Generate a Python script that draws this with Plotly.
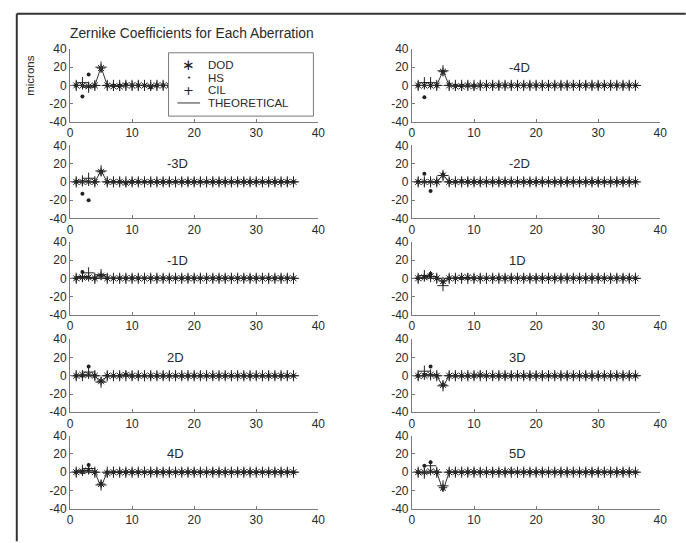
import plotly.graph_objects as go

W, H = 686, 543

# ---------------- data ----------------
ZERNIKE_INDEX = list(range(1, 37))
PANEL_LABELS = ["", "-4D", "-3D", "-2D", "-1D", "1D", "2D", "3D", "4D", "5D"]
X_TICKS = [0, 10, 20, 30, 40]
X_TICK_TEXT = ["0", "10", "20", "30", "40"]
Y_TICKS = [-40, -20, 0, 20, 40]
Y_TICK_TEXT = ["-40", "-20", "0", "20", "40"]

#            1   2   3  4   5   6   7   8  9 10 11 12  13 14 15  16 17 18 19 20 21 22 23 24 25 26 27 28 29 30 31 32 33 34 35 36
DOD_P1  = [0,  0, -1, 0, 19,  0, -1, -1, 0, 0, 0, 0, -1, 0, 0,  0, 0, 0, 0, 0, 0, 0, 0, 0, 0, 0, 0, 0, 0, 0, 0, 0, 0, 0, 0, 0]
HS_P1   = [0,-12, 12, 0, 18,  0,  0,  0, 1, 0, 0, 0, -2, 0, 0, -1, 0, 0, 0, 0, 0, 0, 0, 0, 0, 0, 0, 0, 0, 0, 0, 0, 0, 0, 0, 0]
CIL_P1  = [0,  3, -2, 0, 20,  0,  0,  0, 0, 0, 0, 0,  0, 0, 0,  0, 0, 0, 0, 0, 0, 0, 0, 0, 0, 0, 0, 0, 0, 0, 0, 0, 0, 0, 0, 0]
TH_P1   = [0,  0,  0, 0, 20,  0,  0,  0, 0, 0, 0, 0,  0, 0, 0,  0, 0, 0, 0, 0, 0, 0, 0, 0, 0, 0, 0, 0, 0, 0, 0, 0, 0, 0, 0, 0]

DOD_P2  = [0,  0,  0, 0, 15,  0, -1, -1, 0, -1, 0, 0, 0, 0, 0, 0, 0, 0, 0, 0, 0, 0, 0, 0, 0, 0, 0, 0, 0, 0, 0, 0, 0, 0, 0, 0]
HS_P2   = [0,-13,  0, 0, 15,  1,  0,  0, 0, 0, 0, 0, 0, 0, 0, 0, 0, 0, 0, 0, 0, 0, 0, 0, 0, 0, 0, 0, 0, 0, 0, 0, 0, 0, 0, 0]
CIL_P2  = [0,  3,  3, 0, 16,  0,  0,  0, 0, 0, 0, 0, 0, 0, 0, 0, 0, 0, 0, 0, 0, 0, 0, 0, 0, 0, 0, 0, 0, 0, 0, 0, 0, 0, 0, 0]
TH_P2   = [0,  0,  0, 0, 16,  0,  0,  0, 0, 0, 0, 0, 0, 0, 0, 0, 0, 0, 0, 0, 0, 0, 0, 0, 0, 0, 0, 0, 0, 0, 0, 0, 0, 0, 0, 0]

DOD_P3  = [0,  0,  0, 0, 11,  0,  0,  0, -1, 0, 0, 0, 0, 0, 0, 0, 0, 0, 0, 0, 0, 0, 0, 0, 0, 0, 0, 0, 0, 0, 0, 0, 0, 0, 0, 0]
HS_P3   = [0,-13,-20, 0, 11,  0,  0,  0, -1, 0, 0, 0, 0, 0, 0, 0, 0, 0, 0, 0, 0, 0, 0, 0, 0, 0, 0, 0, 0, 0, 0, 0, 0, 0, 0, 0]
CIL_P3  = [0,  1,  4, 0, 12,  0,  0,  0, 0, 0, 0, 0, 0, 0, 0, 0, 0, 0, 0, 0, 0, 0, 0, 0, 0, 0, 0, 0, 0, 0, 0, 0, 0, 0, 0, 0]
TH_P3   = [0,  0,  0, 0, 12,  0,  0,  0, 0, 0, 0, 0, 0, 0, 0, 0, 0, 0, 0, 0, 0, 0, 0, 0, 0, 0, 0, 0, 0, 0, 0, 0, 0, 0, 0, 0]

DOD_P4  = [0,  0,  0, 0,  7,  0,  0,  0, 0, 0, 0, 0, 0, 0, 0, 0, 0, 0, 0, 0, 0, 0, 0, 0, 0, 0, 0, 0, 0, 0, 0, 0, 0, 0, 0, 0]
HS_P4   = [0,  9,-10, 0,  8,  0,  0,  1, 0, 0, 0, 0, 0, 0, 0, 0, 0, 0, 0, 0, 0, 0, 0, 0, 0, 0, 0, 0, 0, 0, 0, 0, 0, 0, 0, 0]
CIL_P4  = [0,  0,  0, 0,  7,  0,  0,  0, 0, 0, 0, 0, 0, 0, 0, 0, 0, 0, 0, 0, 0, 0, 0, 0, 0, 0, 0, 0, 0, 0, 0, 0, 0, 0, 0, 0]
TH_P4   = [0,  0,  0, 0,  8,  0,  0,  0, 0, 0, 0, 0, 0, 0, 0, 0, 0, 0, 0, 0, 0, 0, 0, 0, 0, 0, 0, 0, 0, 0, 0, 0, 0, 0, 0, 0]

DOD_P5  = [0,  1,  1, 0,  3,  0,  0,  0, 0, 0, 0, 0, 0, 0, 0, 0, 0, 0, 0, 0, 0, 0, 0, 0, 0, 0, 0, 0, 0, 0, 0, 0, 0, 0, 0, 0]
HS_P5   = [0,  7,  1, 0,  3,  0,  0,  0, 0, 0, 0, 0, 0, 0, 0, 0, 0, 0, 0, 0, 0, 0, 0, 0, 0, 0, 0, 0, 0, 0, 0, 0, 0, 0, 0, 0]
CIL_P5  = [0,  2,  6, 0,  4,  0,  0,  0, 0, 0, 0, 0, 0, 0, 0, 0, 0, 0, 0, 0, 0, 0, 0, 0, 0, 0, 0, 0, 0, 0, 0, 0, 0, 0, 0, 0]
TH_P5   = [0,  0,  0, 0,  4,  0,  0,  0, 0, 0, 0, 0, 0, 0, 0, 0, 0, 0, 0, 0, 0, 0, 0, 0, 0, 0, 0, 0, 0, 0, 0, 0, 0, 0, 0, 0]

DOD_P6  = [0,  1,  2, 0, -3,  0,  0,  1, 1, 0, 0, 0, 0, 0, 0, 0, 0, 0, 0, 0, 0, 0, 0, 0, 0, 0, 0, 0, 0, 0, 0, 0, 0, 0, 0, 0]
HS_P6   = [0,  2,  5, 0, -4,  0,  0,  0, 0, 0, 0, 0, 0, 0, 0, 0, 0, 0, 0, 0, 0, 0, 0, 0, 0, 0, 0, 0, 0, 0, 0, 0, 0, 0, 0, 0]
CIL_P6  = [0,  3,  2, 0, -8,  0,  0,  0, 0, 0, 0, 0, 0, 0, 0, 0, 0, 0, 0, 0, 0, 0, 0, 0, 0, 0, 0, 0, 0, 0, 0, 0, 0, 0, 0, 0]
TH_P6   = [0,  0,  0, 0, -4,  0,  0,  0, 0, 0, 0, 0, 0, 0, 0, 0, 0, 0, 0, 0, 0, 0, 0, 0, 0, 0, 0, 0, 0, 0, 0, 0, 0, 0, 0, 0]

DOD_P7  = [0,  1,  1, 0, -6,  0,  0,  0, 1, 0, 0, 0, 0, 0, 0, 0, 0, 0, 0, 0, 0, 0, 0, 0, 0, 0, 0, 0, 0, 0, 0, 0, 0, 0, 0, 0]
HS_P7   = [0,  0, 10, 0, -6,  0,  0,  0, 1, 0, 0, 0, 0, 0, 0, 0, 0, 0, 0, 0, 0, 0, 0, 0, 0, 0, 0, 0, 0, 0, 0, 0, 0, 0, 0, 0]
CIL_P7  = [0,  0,  4, 0, -7,  0,  0,  0, 0, 0, 0, 0, 0, 0, 0, 0, 0, 0, 0, 0, 0, 0, 0, 0, 0, 0, 0, 0, 0, 0, 0, 0, 0, 0, 0, 0]
TH_P7   = [0,  0,  0, 0, -8,  0,  0,  0, 0, 0, 0, 0, 0, 0, 0, 0, 0, 0, 0, 0, 0, 0, 0, 0, 0, 0, 0, 0, 0, 0, 0, 0, 0, 0, 0, 0]

DOD_P8  = [0,  0,  1, 0,-10,  0,  0,  0, 0, 0, 1, 0, 0, 0, 0, 0, 0, 0, 0, 0, 0, 0, 0, 0, 0, 0, 0, 0, 0, 0, 0, 0, 0, 0, 0, 0]
HS_P8   = [0,  1, 10, 0,-10,  0,  0,  0, 0, 0, 0, 0, 0, 0, 0, 0, 0, 0, 0, 0, 0, 0, 0, 0, 0, 0, 0, 0, 0, 0, 0, 0, 0, 0, 0, 0]
CIL_P8  = [0,  5,  1, 0,-11,  0,  0,  0, 0, 0, 0, 0, 0, 0, 0, 0, 0, 0, 0, 0, 0, 0, 0, 0, 0, 0, 0, 0, 0, 0, 0, 0, 0, 0, 0, 0]
TH_P8   = [0,  0,  0, 0,-12,  0,  0,  0, 0, 0, 0, 0, 0, 0, 0, 0, 0, 0, 0, 0, 0, 0, 0, 0, 0, 0, 0, 0, 0, 0, 0, 0, 0, 0, 0, 0]

DOD_P9  = [0,  1,  2, 0,-13, -1,  0,  0, 0, 0, 0, 0, 0, 0, 0, 0, 0, 0, 0, 0, 0, 0, 0, 0, 0, 0, 0, 0, 0, 0, 0, 0, 0, 0, 0, 0]
HS_P9   = [0,  0,  8, 0,-13,  0,  0,  0, 0, 0, 0, 0, 0, 0, 0, 0, 0, 0, 0, 0, 0, 0, 0, 0, 0, 0, 0, 0, 0, 0, 0, 0, 0, 0, 0, 0]
CIL_P9  = [0,  2,  4, 0,-14,  0,  0,  0, 0, 0, 0, 0, 0, 0, 0, 0, 0, 0, 0, 0, 0, 0, 0, 0, 0, 0, 0, 0, 0, 0, 0, 0, 0, 0, 0, 0]
TH_P9   = [0,  0,  0, 0,-16,  0,  0,  0, 0, 0, 0, 0, 0, 0, 0, 0, 0, 0, 0, 0, 0, 0, 0, 0, 0, 0, 0, 0, 0, 0, 0, 0, 0, 0, 0, 0]

DOD_P10 = [0,  0,  1, 0,-17,  0,  0,  0, 0, 0, 0, 0, 0, 0, 0, 1, 0, 0, 0, 0, 0, 0, 0, 0, 0, 0, 0, 0, 0, 0, 0, 0, 0, 0, 0, 0]
HS_P10  = [0,  7, 11, 0,-18,  0,  0,  0, 0, 0, 0, 0, 0, 0, 0, 0, 0, 0, 0, 0, 0, 0, 0, 0, 0, 0, 0, 0, 0, 0, 0, 0, 0, 0, 0, 0]
CIL_P10 = [0, -1,  7, 0,-15,  0,  0,  0, 0, 0, 0, 0, 0, 0, 0, 0, 0, 0, 0, 0, 0, 0, 0, 0, 0, 0, 0, 0, 0, 0, 0, 0, 0, 0, 0, 0]
TH_P10  = [0,  0,  0, 0,-20,  0,  0,  0, 0, 0, 0, 0, 0, 0, 0, 0, 0, 0, 0, 0, 0, 0, 0, 0, 0, 0, 0, 0, 0, 0, 0, 0, 0, 0, 0, 0]

PANELS = [
    (DOD_P1, HS_P1, CIL_P1, TH_P1), (DOD_P2, HS_P2, CIL_P2, TH_P2),
    (DOD_P3, HS_P3, CIL_P3, TH_P3), (DOD_P4, HS_P4, CIL_P4, TH_P4),
    (DOD_P5, HS_P5, CIL_P5, TH_P5), (DOD_P6, HS_P6, CIL_P6, TH_P6),
    (DOD_P7, HS_P7, CIL_P7, TH_P7), (DOD_P8, HS_P8, CIL_P8, TH_P8),
    (DOD_P9, HS_P9, CIL_P9, TH_P9), (DOD_P10, HS_P10, CIL_P10, TH_P10),
]

# ---------------- layout geometry (pixels) ----------------
COL_X = [(68, 320), (415, 667)]
ROW_TOP = [43, 142, 241, 341, 440]
PANEL_H = 75

def fx(px):
    return px / W

def fy(py):
    return 1 - py / H

FONT = "Liberation Sans, Arial, Helvetica, sans-serif"
TXT = "#2a2a2a"
AX = "#7a7a7a"
MK = "#222222"

fig = go.Figure()
layout = dict(
    width=W, height=H, margin=dict(l=0, r=0, t=0, b=0),
    paper_bgcolor="white", plot_bgcolor="white", showlegend=False,
    font=dict(family=FONT, size=12, color=TXT),
)

annotations = []
for i, (dod, hs, cil, th) in enumerate(PANELS):
    row, col = divmod(i, 2)
    n = "" if i == 0 else str(i + 1)
    xa, ya = "x" + n, "y" + n
    x0, x1 = COL_X[col]
    top = ROW_TOP[row]
    layout["xaxis" + n] = dict(
        domain=[fx(x0), fx(x1)], anchor=ya, range=[0, 40],
        tickmode="array", tickvals=X_TICKS, ticktext=X_TICK_TEXT,
        ticks="inside", ticklen=3, tickcolor=AX, showline=True, linecolor=AX,
        linewidth=1, showgrid=False, zeroline=False, mirror=False,
        tickfont=dict(family=FONT, size=12, color=TXT), fixedrange=True,
    )
    layout["yaxis" + n] = dict(
        domain=[fy(top + PANEL_H), fy(top)], anchor=xa, range=[-40, 40],
        tickmode="array", tickvals=Y_TICKS, ticktext=Y_TICK_TEXT,
        ticks="inside", ticklen=3, tickcolor=AX, showline=True, linecolor=AX,
        linewidth=1, showgrid=False, zeroline=False, mirror=False,
        tickfont=dict(family=FONT, size=12, color=TXT), fixedrange=True,
    )
    fig.add_trace(go.Scatter(x=ZERNIKE_INDEX, y=dod, mode="markers", name="DOD",
                             xaxis=xa, yaxis=ya,
                             marker=dict(symbol="asterisk-open", size=7, color=MK,
                                         line=dict(color=MK, width=1))))
    fig.add_trace(go.Scatter(x=ZERNIKE_INDEX, y=hs, mode="markers", name="HS",
                             xaxis=xa, yaxis=ya,
                             marker=dict(symbol="circle", size=4, color=MK)))
    fig.add_trace(go.Scatter(x=ZERNIKE_INDEX, y=cil, mode="markers", name="CIL",
                             xaxis=xa, yaxis=ya,
                             marker=dict(symbol="cross-thin-open", size=8, color=MK,
                                         line=dict(color=MK, width=1))))
    fig.add_trace(go.Scatter(x=ZERNIKE_INDEX, y=th, mode="lines", name="THEORETICAL",
                             xaxis=xa, yaxis=ya, line=dict(color="#333333", width=1)))
    if PANEL_LABELS[i]:
        annotations.append(dict(text=PANEL_LABELS[i], xref=xa, yref=ya, x=15.3, y=20,
                                xanchor="left", yanchor="middle", showarrow=False,
                                font=dict(family=FONT, size=13, color=TXT)))

# title and y-axis label
annotations.append(dict(text="Zernike Coefficients for Each Aberration", xref="paper", yref="paper",
                        x=fx(192), y=fy(27), xanchor="center", yanchor="middle", showarrow=False,
                        font=dict(family=FONT, size=13.8, color=TXT)))
annotations.append(dict(text="microns", xref="paper", yref="paper", textangle=-90,
                        x=fx(28), y=fy(70), xanchor="center", yanchor="middle", showarrow=False,
                        font=dict(family=FONT, size=11.5, color=TXT)))

# legend (drawn as a box over the first panel)
LEG_L, LEG_R, LEG_T, LEG_B = 168, 315, 47, 112
shapes = [
    dict(type="rect", xref="paper", yref="paper", x0=fx(LEG_L), x1=fx(LEG_R), y0=fy(LEG_B), y1=fy(LEG_T),
         fillcolor="white", line=dict(color=AX, width=1), layer="above"),
    dict(type="line", xref="paper", yref="paper", x0=fx(177), x1=fx(200), y0=fy(98.5), y1=fy(98.5),
         line=dict(color="#333333", width=1), layer="above"),
    # outer frame of the figure
    dict(type="line", xref="paper", yref="paper", x0=fx(14), x1=1.01, y0=fy(7), y1=fy(7),
         line=dict(color="#333333", width=2), layer="above"),
    dict(type="line", xref="paper", yref="paper", x0=fx(14), x1=fx(14), y0=fy(7), y1=-0.01,
         line=dict(color="#333333", width=2), layer="above"),
]
LEG_NAMES = ["DOD", "HS", "CIL", "THEORETICAL"]
LEG_GLYPHS = ["\u2217", "\u2022", "+", ""]
LEG_GLYPH_SIZE = [15, 7, 13, 12]
LEG_Y = [59.5, 72.5, 85.5, 98.5]
for name, glyph, gs, yy in zip(LEG_NAMES, LEG_GLYPHS, LEG_GLYPH_SIZE, LEG_Y):
    annotations.append(dict(text=name, xref="paper", yref="paper", x=fx(207), y=fy(yy),
                            xanchor="left", yanchor="middle", showarrow=False, borderpad=0,
                            font=dict(family=FONT, size=11.5, color=TXT)))
    if glyph:
        annotations.append(dict(text=glyph, xref="paper", yref="paper", x=fx(188.5), y=fy(yy),
                                xanchor="center", yanchor="middle", showarrow=False, borderpad=0,
                                font=dict(family="DejaVu Sans", size=gs, color=MK)))

layout["annotations"] = annotations
layout["shapes"] = shapes
fig.update_layout(**layout)
fig.write_html("out.html")
